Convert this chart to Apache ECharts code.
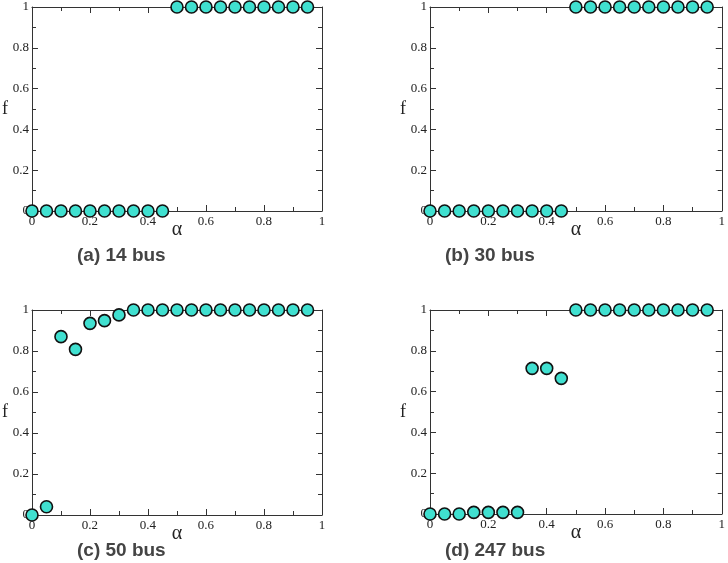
<!DOCTYPE html>
<html>
<head>
<meta charset="utf-8">
<script src="https://cdn.jsdelivr.net/npm/echarts@6/dist/echarts.min.js"></script>
<style>
  html, body { margin: 0; padding: 0; background: #fff; }
  #main { width: 728px; height: 563px; }
</style>
</head>
<body>
<div id="main"></div>
<script>
// alpha values (shared by all panels)
const alpha = [0, 0.05, 0.1, 0.15, 0.2, 0.25, 0.3, 0.35, 0.4, 0.45,
               0.5, 0.55, 0.6, 0.65, 0.7, 0.75, 0.8, 0.85, 0.9, 0.95];
// f values per panel
const f14 = [0, 0, 0, 0, 0, 0, 0, 0, 0, 0, 1, 1, 1, 1, 1, 1, 1, 1, 1, 1];
const f30 = [0, 0, 0, 0, 0, 0, 0, 0, 0, 0, 1, 1, 1, 1, 1, 1, 1, 1, 1, 1];
const f50 = [0, 0.04, 0.87, 0.808, 0.935, 0.948, 0.976, 1, 1, 1,
             1, 1, 1, 1, 1, 1, 1, 1, 1, 1];
const f247 = [0, 0, 0, 0.008, 0.008, 0.008, 0.008, 0.714, 0.714, 0.665,
              1, 1, 1, 1, 1, 1, 1, 1, 1, 1];
const captions = ['(a) 14 bus', '(b) 30 bus', '(c) 50 bus', '(d) 247 bus'];

const panels = [
  { left: 29, top: 7, height: 204, cap: [77, 246] },
  { left: 430, top: 7, height: 204, cap: [445, 246] },
  { left: 29, top: 310, height: 205, cap: [77, 541] },
  { left: 430, top: 310, height: 204, cap: [445, 541] }
];
const series = [f14, f30, f50, f247];

const lineStyle = { color: '#333', width: 1 };
const labelFont = { fontFamily: 'Liberation Serif', fontSize: 13, color: '#222' };

const char = echarts.init(document.getElementById('main'));
const grid = [], xAxis = [], yAxis = [], seriesOpt = [], title = [];

panels.forEach((p, i) => {
  grid.push({ left: p.left, top: p.top, width: 293, height: p.height });
  const common = {
    gridIndex: i, type: 'value', min: 0, max: 1, interval: 0.2,
    axisLine: { show: true, onZero: false, lineStyle: lineStyle },
    axisTick: { show: true, inside: true, length: 6, lineStyle: lineStyle },
    minorTick: { show: true, splitNumber: 2, length: 4, lineStyle: lineStyle },
    splitLine: { show: false }
  };
  xAxis.push(Object.assign({}, common, {
    position: 'bottom',
    name: 'α', nameLocation: 'middle', nameGap: 9, nameMoveOverlap: false,
    nameTextStyle: { fontFamily: 'Liberation Serif', fontSize: 20, color: '#222' },
    axisLabel: Object.assign({ margin: 4, formatter: v => String(+v.toFixed(1)) }, labelFont)
  }));
  xAxis.push(Object.assign({}, common, { position: 'top', axisLabel: { show: false } }));
  yAxis.push(Object.assign({}, common, {
    position: 'left',
    name: 'f', nameLocation: 'middle', nameRotate: 0, nameGap: 24, nameMoveOverlap: false,
    nameTextStyle: { fontFamily: 'Liberation Serif', fontSize: 18, color: '#222' },
    axisLabel: Object.assign({ margin: 3, formatter: v => String(+v.toFixed(1)) }, labelFont)
  }));
  yAxis.push(Object.assign({}, common, { position: 'right', axisLabel: { show: false } }));
  seriesOpt.push({
    type: 'scatter',
    xAxisIndex: 2 * i, yAxisIndex: 2 * i,
    symbol: 'circle', symbolSize: 12,
    itemStyle: { color: '#40E0D0', borderColor: '#111', borderWidth: 1.6, opacity: 1 },
    clip: false,
    data: alpha.map((a, k) => [a, series[i][k]])
  });
  title.push({
    text: captions[i], left: p.cap[0], top: p.cap[1], padding: 0,
    textStyle: { fontFamily: 'Liberation Sans', fontWeight: 'bold', fontSize: 19, color: '#444' }
  });
});

char.setOption({
  animation: false,
  backgroundColor: '#fff',
  title: title,
  grid: grid,
  xAxis: xAxis,
  yAxis: yAxis,
  series: seriesOpt
});
</script>
</body>
</html>
